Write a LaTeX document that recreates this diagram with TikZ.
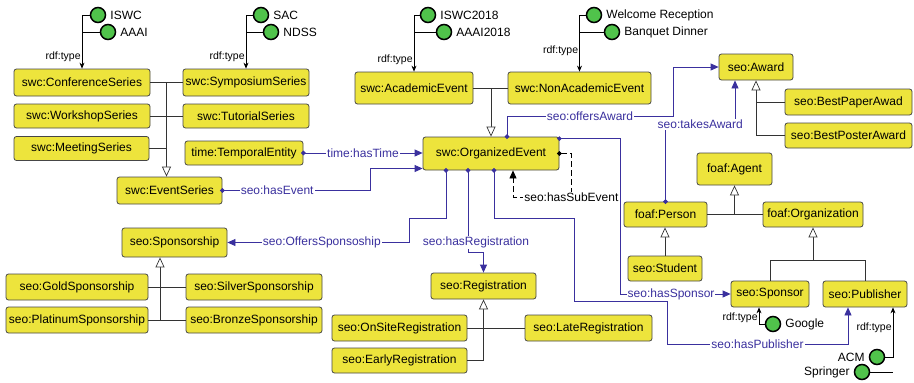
\documentclass[tikz,border=0pt]{standalone}
\usepackage{fontspec}
\setmainfont{Liberation Sans}
\usetikzlibrary{arrows.meta,positioning,calc}
\definecolor{classfill}{RGB}{237,228,60}
\definecolor{classdraw}{RGB}{70,70,70}
\definecolor{instfill}{RGB}{80,195,75}
\definecolor{relcolor}{RGB}{58,48,158}

\begin{document}
\begin{tikzpicture}[x=1pt,y=-1pt,
    cls/.style={draw=classdraw, fill=classfill, rounded corners=2.5pt, line width=0.8pt,
      minimum height=26pt, inner sep=0pt, font=\fontsize{12}{14}\selectfont},
    inst/.style={circle, draw=black, line width=1.5pt, fill=instfill, minimum size=15pt, inner sep=0pt},
    ilbl/.style={font=\fontsize{12}{14}\selectfont, inner sep=1pt, label distance=3pt},
    isa/.style={draw=black!80, line width=0.7pt},
    gen/.style={isa, -{Triangle[open, fill=white, length=10pt, width=9pt]}},
    typeln/.style={draw=black, line width=0.7pt},
    typeof/.style={typeln, -{Stealth[length=6pt, width=5pt]}},
    rel/.style={draw=relcolor, line width=0.8pt, shorten <=-2.25pt,
      {Circle[length=4.5pt]}-{Triangle[length=8pt, width=7pt]}},
    sub/.style={draw=black, line width=0.8pt, dash pattern=on 6pt off 3pt, shorten <=-2.25pt,
      {Circle[length=4.5pt]}-{Triangle[length=8pt, width=7pt]}},
    rlbl/.style={text=relcolor, fill=white, inner sep=1pt, font=\fontsize{12}{14}\selectfont},
    slbl/.style={fill=white, inner sep=1pt, font=\fontsize{12}{14}\selectfont},
    tlbl/.style={font=\fontsize{10.5}{12}\selectfont, inner sep=1pt},
  ]
  \useasboundingbox (0,0) rectangle (914,383);

  % series classes
  \node[cls, minimum width=136pt, minimum height=27pt] (confser) at (82,82.5) {swc:ConferenceSeries};
  \node[cls, minimum width=126pt, minimum height=27pt] (sympser) at (246,82.5) {swc:SymposiumSeries};
  \node[cls, minimum width=136pt, minimum height=24pt] (workser) at (82,116) {swc:WorkshopSeries};
  \node[cls, minimum width=126pt, minimum height=24pt] (tutser) at (246,116) {swc:TutorialSeries};
  \node[cls, minimum width=135pt, minimum height=24pt] (meetser) at (81.5,148.5) {swc:MeetingSeries};
  \node[cls, minimum width=118pt, minimum height=24pt] (temporal) at (244,153) {time:TemporalEntity};
  \node[cls, minimum width=105pt, minimum height=27pt] (eventser) at (169.5,190.5) {swc:EventSeries};

  % event classes
  \node[cls, minimum width=118pt, minimum height=32pt] (acad) at (414,88) {swc:AcademicEvent};
  \node[cls, minimum width=143pt, minimum height=32pt] (nonacad) at (579.5,88) {swc:NonAcademicEvent};
  \node[cls, minimum width=136pt, minimum height=33pt] (orgev) at (491,153.5) {swc:OrganizedEvent};

  % awards
  \node[cls, minimum width=74pt] (award) at (756,67) {seo:Award};
  \node[cls, minimum width=127pt] (bestpaper) at (848.5,102) {seo:BestPaperAwad};
  \node[cls, minimum width=127pt, minimum height=25pt] (bestposter) at (848.5,135.5) {seo:BestPosterAward};

  % agents
  \node[cls, minimum width=75pt, minimum height=32pt] (agent) at (734.5,169) {foaf:Agent};
  \node[cls, minimum width=83pt, minimum height=25pt] (person) at (665.5,214.5) {foaf:Person};
  \node[cls, minimum width=100pt, minimum height=25pt] (organization) at (813,214.5) {foaf:Organization};
  \node[cls, minimum width=74pt, minimum height=25pt] (student) at (665,268.5) {seo:Student};
  \node[cls, minimum width=78pt] (sponsor) at (770,294) {seo:Sponsor};
  \node[cls, minimum width=84pt] (publisher) at (865,294) {seo:Publisher};

  % registrations
  \node[cls, minimum width=105pt] (registration) at (483.5,286) {seo:Registration};
  \node[cls, minimum width=135pt] (onsite) at (399.5,328) {seo:OnSiteRegistration};
  \node[cls, minimum width=127pt] (late) at (588.5,328) {seo:LateRegistration};
  \node[cls, minimum width=135pt, minimum height=25pt] (early) at (399.5,360.5) {seo:EarlyRegistration};

  % sponsorships
  \node[cls, minimum width=105pt, minimum height=29pt] (sponsorship) at (174.5,242.5) {seo:Sponsorship};
  \node[cls, minimum width=142pt] (gold) at (77,287) {seo:GoldSponsorship};
  \node[cls, minimum width=136pt] (silver) at (254,287) {seo:SilverSponsorship};
  \node[cls, minimum width=142pt] (platinum) at (77,320) {seo:PlatinumSponsorship};
  \node[cls, minimum width=136pt] (bronze) at (254,320) {seo:BronzeSponsorship};

  % instances
  \node[inst, label={[ilbl]right:ISWC}] (iswc) at (98,15) {};
  \node[inst, label={[ilbl]right:AAAI}] (aaai) at (108,32) {};
  \node[inst, label={[ilbl]right:SAC}] (sac) at (261,15) {};
  \node[inst, label={[ilbl]right:NDSS}] (ndss) at (271,32) {};
  \node[inst, label={[ilbl]right:ISWC2018}] (iswcyr) at (428,15) {};
  \node[inst, label={[ilbl]right:AAAI2018}] (aaaiyr) at (444,32) {};
  \node[inst, label={[ilbl]right:Welcome Reception}] (welcome) at (594,15) {};
  \node[inst, label={[ilbl]right:Banquet Dinner}] (banquet) at (612,32) {};
  \node[inst, label={[ilbl]right:Google}] (google) at (773,324) {};
  \node[inst, label={[ilbl]left:ACM}] (acm) at (877,357) {};
  \node[inst, label={[ilbl]left:Springer}] (springer) at (862,372) {};

  % rdf:type
  \draw[typeof] (iswc.west) -| node[tlbl, pos=0.89, left] {rdf:type} (confser.north);
  \draw[typeln] (aaai.west) -- (aaai.west -| confser.north);
  \draw[typeof] (sac.west) -| node[tlbl, pos=0.89, left] {rdf:type} (sympser.north);
  \draw[typeln] (ndss.west) -- (ndss.west -| sympser.north);
  \draw[typeof] (iswcyr.west) -| node[tlbl, pos=0.895, left] {rdf:type} (acad.north);
  \draw[typeln] (aaaiyr.west) -- (aaaiyr.west -| acad.north);
  \draw[typeof] (welcome.west) -| node[tlbl, pos=0.82, left] {rdf:type} (nonacad.north);
  \draw[typeln] (banquet.west) -- (banquet.west -| nonacad.north);
  \draw[typeof] (google.west) -| node[tlbl, pos=0.68, left] {rdf:type} ($(sponsor.south)+(-11,0)$);
  \coordinate (pubtype) at ($(publisher.south)+(28,0)$);
  \draw[typeof] (acm.east) -| node[tlbl, pos=0.79, left] {rdf:type} (pubtype);
  \draw[typeln] (springer.east) -- (springer.east -| pubtype);

  % subclasses
  \coordinate (serjoin) at ($(confser.east)!0.5!(sympser.west)$);
  \draw[isa] (confser) -- (sympser);
  \draw[isa] (workser) -- (tutser);
  \draw[isa] (meetser.east) -- (meetser.east -| serjoin);
  \draw[gen] (serjoin) -- (serjoin |- eventser.north);
  \draw[isa] (acad) -- (nonacad);
  \draw[gen] (orgev.north |- acad.east) -- (orgev.north);
  \draw[isa] (bestpaper.west) -- (bestpaper.west -| award.south);
  \draw[gen] (bestposter.west) -| (award.south);
  \draw[isa] (person) -- (organization);
  \draw[gen] (agent.south |- person.east) -- (agent.south);
  \draw[gen] (student.north) -- (student.north |- person.south);
  \coordinate (orgjoin) at ($(sponsor.north)+(0,-20)$);
  \draw[isa] (sponsor.north) -- (orgjoin) -| (publisher.north);
  \draw[gen] (organization.south |- orgjoin) -- (organization.south);
  \draw[isa] (onsite) -- (late);
  \draw[gen] (early.east) -| (registration.south);
  \coordinate (spjoin) at (160,320);
  \draw[isa] (gold) -- (silver);
  \draw[isa] (platinum) -- (bronze);
  \draw[gen] (spjoin) -- (spjoin |- sponsorship.south);

  % properties
  \draw[rel] (temporal.east) -- node[rlbl] {time:hasTime} (temporal.east -| orgev.west);
  \draw[rel] (eventser.east) -- node[rlbl, pos=0.37] {seo:hasEvent} ++(148,0)
    |- ($(orgev.west)+(0,15)$);
  \draw[rel] ($(orgev.north)+(16,0)$) |- node[rlbl, pos=0.75] {seo:offersAward} (673,116)
    |- (award.west);
  \draw[rel] (person.north) -- ++(0,-77) -| node[rlbl, pos=0.25] {seo:takesAward}
    ($(award.south)+(-21,0)$);
  \draw[rel] ($(orgev.north east)+(0,2)$) -- ++(61,0) |- node[rlbl, pos=0.73] {seo:hasSponsor}
    (sponsor.west);
  \draw[sub] (orgev.east) -- ++(12,0) -- node[slbl, pos=1] {seo:hasSubEvent} ++(0,43.5)
    -| ($(orgev.south)+(22,0)$);
  \draw[rel] ($(orgev.south)+(-23,0)$) -- node[rlbl, pos=0.88, xshift=8pt] {seo:hasRegistration}
    ++(0,82) -| (registration.north);
  \draw[rel] ($(orgev.south)+(-45,0)$) -- ++(0,48) -- ++(-37,0)
    |- node[rlbl, pos=0.74] {seo:OffersSponsoship} (sponsorship.east);
  \draw[rel] ($(orgev.south)+(3,0)$) -- ++(0,48) -- ++(80,0) -- ++(0,83) -- ++(93,0) -- ++(0,43)
    -| node[rlbl, pos=0.25] {seo:hasPublisher} ($(publisher.south)+(-17,0)$);
\end{tikzpicture}
\end{document}
